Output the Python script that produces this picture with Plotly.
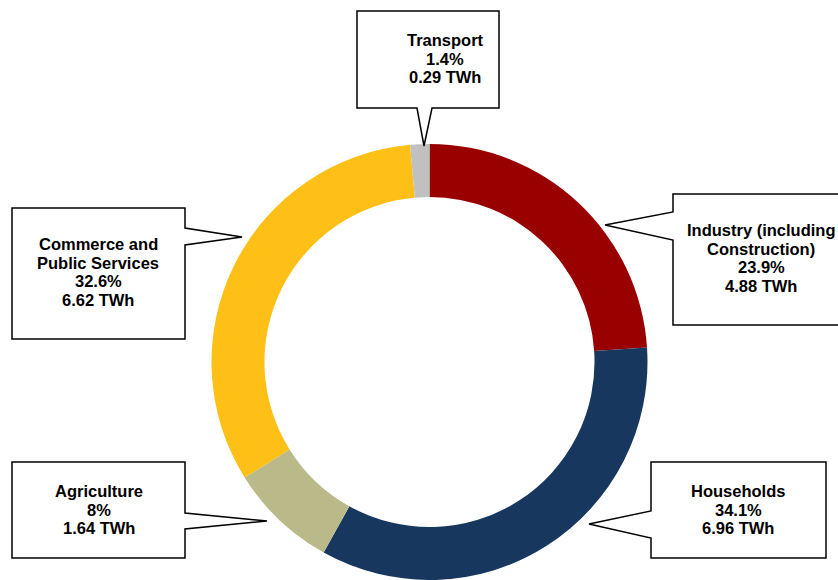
import plotly.graph_objects as go

# Final electricity consumption by sector
sectors = ["Industry (including Construction)", "Households", "Agriculture",
           "Commerce and Public Services", "Transport"]
twh = [4.88, 6.96, 1.64, 6.62, 0.29]
share_labels = ["23.9%", "34.1%", "8%", "32.6%", "1.4%"]
colors = ["#990000", "#17375E", "#B9B98A", "#FEBF16", "#C0C0C0"]

W, H = 838, 580

fig = go.Figure(go.Pie(
    labels=sectors,
    values=twh,
    sort=False,
    direction="clockwise",
    rotation=0,
    hole=0.757,
    marker=dict(colors=colors, line=dict(width=0)),
    textinfo="none",
    hovertemplate="%{label}<br>%{value} TWh<extra></extra>",
    domain=dict(x=[211.5 / W, 647.5 / W], y=[0, 436 / H]),
    showlegend=False,
))


def px(x, y):
    return x / W, 1 - y / H


# Callout layout (pixels): box edges, pointer base on one side, pointer tip,
# text centre x and first-line y
callouts = {
    "Transport": dict(box=(357, 11, 499, 108), side="bottom", base=(417, 432),
                      tip=(424, 146), tx=445, ty=40,
                      lines=["Transport"]),
    "Industry (including Construction)": dict(box=(673, 194, 852, 325), side="left",
                      base=(212, 240), tip=(605, 225), tx=761, ty=230,
                      lines=["Industry (including", "Construction)"]),
    "Commerce and Public Services": dict(box=(12, 208, 185, 339), side="right",
                      base=(228, 245), tip=(242, 237), tx=98, ty=244,
                      lines=["Commerce and", "Public Services"]),
    "Agriculture": dict(box=(12, 462, 185, 558), side="right", base=(513, 529),
                      tip=(267, 521), tx=99, ty=491, lines=["Agriculture"]),
    "Households": dict(box=(651, 462, 826, 558), side="left", base=(511, 538),
                      tip=(589, 524), tx=738, ty=491, lines=["Households"]),
}

LINE_GAP = 18.7

for name, value, share in zip(sectors, twh, share_labels):
    c = callouts[name]
    x0, y0, x1, y1 = c["box"]
    b0, b1 = c["base"]
    tx, ty = c["tip"]
    if c["side"] == "bottom":
        pts = [(x0, y0), (x1, y0), (x1, y1), (b1, y1), (tx, ty), (b0, y1), (x0, y1)]
    elif c["side"] == "left":
        pts = [(x0, y0), (x1, y0), (x1, y1), (x0, y1), (x0, b1), (tx, ty), (x0, b0)]
    else:
        pts = [(x0, y0), (x1, y0), (x1, b0), (tx, ty), (x1, b1), (x1, y1), (x0, y1)]
    path = "M " + " L ".join(f"{px(*p)[0]:.5f},{px(*p)[1]:.5f}" for p in pts) + " Z"
    fig.add_shape(type="path", path=path, xref="paper", yref="paper",
                  fillcolor="white", line=dict(color="black", width=1.5),
                  layer="above")

    text_lines = c["lines"] + [share, f"{value:.2f} TWh"]
    for i, t in enumerate(text_lines):
        ax, ay = px(c["tx"], c["ty"] + i * LINE_GAP)
        fig.add_annotation(x=ax, y=ay, xref="paper", yref="paper", text=t,
                           showarrow=False, xanchor="center", yanchor="middle",
                           font=dict(family="Liberation Sans, Arial", size=16.5,
                                     color="black", weight="bold"))

fig.update_layout(
    width=W, height=H,
    margin=dict(l=0, r=0, t=0, b=0),
    paper_bgcolor="white",
    plot_bgcolor="white",
)

fig.write_html("out.html")
